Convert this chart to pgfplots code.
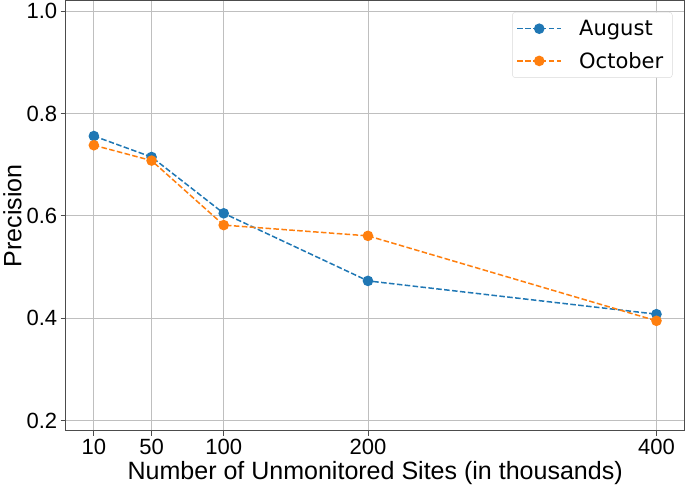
\documentclass[border=0pt]{standalone}
\usepackage{pgfplots}
\pgfplotsset{compat=1.18}
\usepackage{fontspec}
\setmainfont{Liberation Sans}
\newfontfamily\legfont{DejaVu Sans}
\definecolor{tabblue}{HTML}{1F77B4}
\definecolor{taborange}{HTML}{FF7F0E}
\begin{document}
\begin{tikzpicture}[x=1bp,y=1bp]
\begin{axis}[
  scale only axis,
  width=616bp, height=428bp,
  xmin=-9.5, xmax=419.5,
  ymin=0.18, ymax=1.02,
  xtick={10,50,100,200,400},
  ytick={0.2,0.4,0.6,0.8,1.0},
  yticklabel style={/pgf/number format/fixed,/pgf/number format/fixed zerofill,/pgf/number format/precision=1},
  /pgf/number format/assume math mode=true,
  grid=major,
  major grid style={color=black!25, line width=0.8pt},
  axis line style={color=black!70, line width=0.8pt},
  tick style={color=black!70, line width=0.8pt},
  tick align=outside,
  major tick length=5bp,
  xtick pos=bottom, ytick pos=left,
  ticklabel style={font=\fontsize{22}{26}\selectfont},
  label style={font=\fontsize{25}{30}\selectfont},
  xlabel={Number of Unmonitored Sites (in thousands)},
  ylabel={Precision},
  xlabel style={yshift=1bp},
  ylabel style={yshift=-2bp},
  legend style={at={(0.9805,0.974)}, anchor=north east, font=\legfont\fontsize{21}{25}\selectfont,
    draw=black!15, rounded corners=3pt, inner xsep=4bp, inner ysep=6bp, row sep=11bp,
    nodes={inner xsep=5bp}},
  legend cell align=left,
  legend image code/.code={\draw[mark repeat=2,mark phase=2,#1] plot coordinates {(0bp,0bp) (22bp,0bp) (44bp,0bp)};
    \path (56bp,0bp);},
]
\addplot[color=tabblue, dash pattern=on 5.5bp off 2.4bp, line width=1.5bp, mark=*, mark size=4.5bp, mark options={solid}]
  coordinates {(10,0.756) (50,0.715) (100,0.605) (200,0.473) (400,0.408)};
\addlegendentry{August}
\addplot[color=taborange, dash pattern=on 5.5bp off 2.4bp, line width=1.5bp, mark=*, mark size=4.5bp, mark options={solid}]
  coordinates {(10,0.738) (50,0.708) (100,0.582) (200,0.561) (400,0.395)};
\addlegendentry{October}
\end{axis}
\end{tikzpicture}
\end{document}
